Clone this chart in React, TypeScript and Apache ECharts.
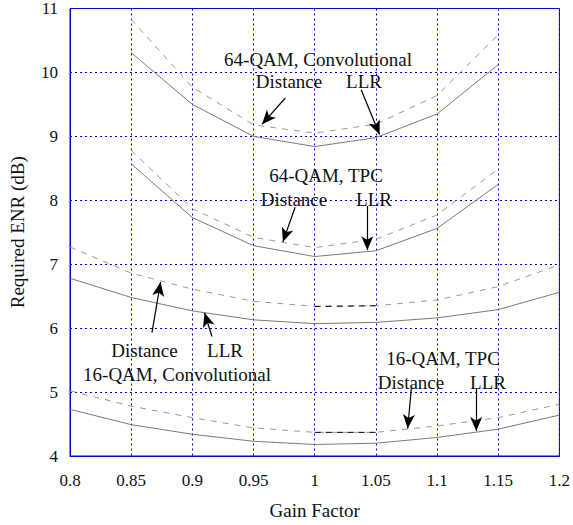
import React, { useEffect, useRef } from "react";
import * as echarts from "echarts";

const gains16 = [0.8, 0.85, 0.9, 0.95, 1.0, 1.05, 1.1, 1.15, 1.2];
const gains64 = [0.85, 0.9, 0.95, 1.0, 1.05, 1.1, 1.15];

const qam64ConvLLR = [10.31, 9.5, 9.0, 8.84, 8.98, 9.35, 10.12];
const qam64ConvDist = [10.83, 9.77, 9.18, 9.05, 9.19, 9.64, 10.59];
const qam64TpcLLR = [8.57, 7.73, 7.29, 7.12, 7.21, 7.56, 8.25];
const qam64TpcDist = [8.78, 7.87, 7.42, 7.26, 7.39, 7.77, 8.49];
const qam16ConvLLR = [6.78, 6.48, 6.27, 6.13, 6.07, 6.09, 6.16, 6.29, 6.56];
const qam16ConvDist = [7.27, 6.86, 6.61, 6.42, 6.34, 6.35, 6.44, 6.65, 6.99];
const qam16TpcLLR = [4.73, 4.49, 4.34, 4.23, 4.18, 4.2, 4.29, 4.42, 4.64];
const qam16TpcDist = [5.02, 4.78, 4.6, 4.44, 4.37, 4.37, 4.47, 4.6, 4.81];

const xTicks = ["0.8", "0.85", "0.9", "0.95", "1", "1.05", "1.1", "1.15", "1.2"];

// arrows: [fromX, fromY, toX, toY] in data units
const arrows = [
  [0.976, 9.6, 0.957, 9.19],
  [1.038, 9.73, 1.053, 9.03],
  [0.984, 7.89, 0.974, 7.35],
  [1.043, 7.91, 1.043, 7.22],
  [0.867, 5.93, 0.874, 6.72],
  [0.916, 5.87, 0.91, 6.24],
  [1.079, 5.06, 1.076, 4.43],
  [1.132, 5.06, 1.132, 4.39],
];

const labels: [string, number, number][] = [
  ["64-QAM, Convolutional", 318, 59],
  ["Distance", 289, 81],
  ["LLR", 364, 81],
  ["64-QAM, TPC", 326, 175],
  ["Distance", 294, 199],
  ["LLR", 374, 199],
  ["Distance", 144.5, 350],
  ["LLR", 225, 350],
  ["16-QAM, Convolutional", 177, 374],
  ["16-QAM, TPC", 443, 358],
  ["Distance", 411, 382],
  ["LLR", 488, 382],
];

const FONT = "'Liberation Serif', 'DejaVu Serif', serif";
const BLUE = "#0000cc";
const GRAY = "#7a7a7a";

function pairs(xs: number[], ys: number[]) {
  return xs.map((x, i) => [x, ys[i]]);
}

export default function App() {
  const ref = useRef<HTMLDivElement>(null);
  useEffect(() => {
    if (!ref.current) return;
    const chart = echarts.init(ref.current, null, { renderer: "svg" });
    const solid = (name: string, xs: number[], ys: number[]) => ({
      name,
      type: "line",
      data: pairs(xs, ys),
      symbol: "none",
      lineStyle: { color: GRAY, width: 1 },
      z: 3,
    });
    const dashed = (name: string, xs: number[], ys: number[]) => ({
      name,
      type: "line",
      data: pairs(xs, ys),
      symbol: "none",
      lineStyle: { color: "#999999", width: 1, type: [6, 6] },
      z: 3,
    });
    const i1 = gains16.indexOf(1.0);
    const i2 = gains16.indexOf(1.05);
    const blackSeg = (ys: number[]) => ({
      type: "line",
      data: [
        [gains16[i1], ys[i1]],
        [gains16[i2], ys[i2]],
      ],
      symbol: "none",
      lineStyle: { color: "#000", width: 1, type: [6, 5] },
      z: 4,
    });
    chart.setOption({
      animation: false,
      grid: {
        left: 69,
        right: 10,
        top: 8,
        bottom: 68,
        show: true,
        borderColor: BLUE,
        borderWidth: 1,
      },
      xAxis: {
        type: "value",
        min: 0.8,
        max: 1.2,
        interval: 0.05,
        name: "Gain Factor",
        nameLocation: "middle",
        nameGap: 45,
        nameTextStyle: { fontFamily: FONT, fontSize: 19, color: "#111" },
        axisLine: { lineStyle: { color: BLUE, width: 1 } },
        axisTick: { show: false },
        axisLabel: {
          fontFamily: FONT,
          fontSize: 17,
          color: "#111",
          margin: 16,
          formatter: (v: number) => xTicks[Math.round((v - 0.8) / 0.05)] ?? "",
        },
        splitLine: { show: true, lineStyle: { color: BLUE, type: [2, 3], width: 1 } },
      },
      yAxis: {
        type: "value",
        min: 4,
        max: 11,
        interval: 1,
        name: "Required ENR (dB)",
        nameLocation: "middle",
        nameGap: 43,
        nameTextStyle: { fontFamily: FONT, fontSize: 19, color: "#111" },
        axisLine: { show: true, lineStyle: { color: BLUE, width: 1 } },
        axisTick: { show: false },
        axisLabel: { fontFamily: FONT, fontSize: 17, color: "#111", margin: 12 },
        splitLine: { show: true, lineStyle: { color: BLUE, type: [2, 3], width: 1 } },
      },
      series: [
        solid("64-QAM Conv LLR", gains64, qam64ConvLLR),
        dashed("64-QAM Conv Distance", gains64, qam64ConvDist),
        solid("64-QAM TPC LLR", gains64, qam64TpcLLR),
        dashed("64-QAM TPC Distance", gains64, qam64TpcDist),
        solid("16-QAM Conv LLR", gains16, qam16ConvLLR),
        dashed("16-QAM Conv Distance", gains16, qam16ConvDist),
        solid("16-QAM TPC LLR", gains16, qam16TpcLLR),
        dashed("16-QAM TPC Distance", gains16, qam16TpcDist),
        blackSeg(qam16ConvDist),
        blackSeg(qam16TpcDist),
        {
          type: "line",
          data: [],
          markLine: {
            silent: true,
            symbol: ["none", "arrow"],
            symbolSize: [9, 14],
            label: { show: false },
            lineStyle: { color: "#000", width: 1.2, type: "solid" },
            data: arrows.map((a) => [
              { coord: [a[0], a[1]] },
              { coord: [a[2], a[3]] },
            ]),
          },
          z: 5,
        },
      ],
      graphic: labels.map(([t, x, y]) => ({
        type: "text",
        x,
        y,
        z: 10,
        style: {
          text: t,
          fontFamily: FONT,
          fontSize: 19,
          fill: "#111",
          align: "center",
          verticalAlign: "middle",
        },
      })),
    });
    return () => chart.dispose();
  }, []);
  return (
    <div
      ref={ref}
      style={{ position: "absolute", left: 0, top: 0, width: 573, height: 525, background: "#fff" }}
    />
  );
}
